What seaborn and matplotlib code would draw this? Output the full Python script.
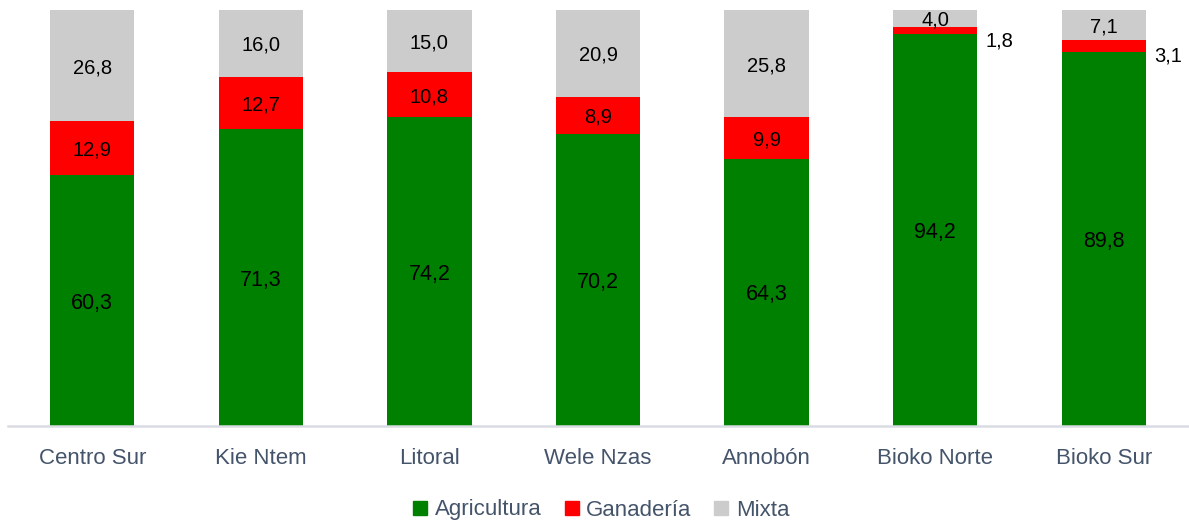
import matplotlib
matplotlib.use("Agg")
import matplotlib.pyplot as plt
from matplotlib.lines import Line2D
import seaborn as sns
import pandas as pd
import numpy as np

categories = ["Centro Sur", "Kie Ntem", "Litoral", "Wele Nzas", "Annobón", "Bioko Norte", "Bioko Sur"]
agricultura = [60.3, 71.3, 74.2, 70.2, 64.3, 94.2, 89.8]
ganaderia = [12.9, 12.7, 10.8, 8.9, 9.9, 1.8, 3.1]
mixta = [26.8, 16.0, 15.0, 20.9, 25.8, 4.0, 7.1]
series_names = ["Agricultura", "Ganadería", "Mixta"]

colors = {"Agricultura": "#008000", "Ganadería": "#ff0000", "Mixta": "#cccccc"}
text_color = "#44546a"

sns.set_theme(style="white")
plt.rcParams["font.family"] = ["Liberation Sans", "DejaVu Sans"]

df = pd.DataFrame({"cat": categories, "Agricultura": agricultura,
                   "Ganadería": ganaderia, "Mixta": mixta})
df["c1"] = df["Agricultura"]
df["c2"] = df["Agricultura"] + df["Ganadería"]
df["c3"] = df["c2"] + df["Mixta"]

fig = plt.figure(figsize=(11.89, 5.23), dpi=100)
ax = fig.add_axes([8 / 1189, (523 - 426) / 523, 1180 / 1189, 416 / 523])

for col, name in [("c3", "Mixta"), ("c2", "Ganadería"), ("c1", "Agricultura")]:
    sns.barplot(data=df, x="cat", y=col, color=colors[name], width=0.5,
                linewidth=0, saturation=1, ax=ax, order=categories)

ax.set_ylim(0, 100)
ax.set_xlim(-0.5, len(categories) - 0.5)
ax.set_xlabel("")
ax.set_ylabel("")
ax.set_yticks([])
for s in ["top", "right", "left"]:
    ax.spines[s].set_visible(False)
ax.spines["bottom"].set_color("#d9dce3")
ax.spines["bottom"].set_linewidth(1.8)
ax.tick_params(axis="x", length=0, pad=16, labelsize=16, labelcolor=text_color)

def fmt(v):
    return f"{v:.1f}".replace(".", ",")

for i in range(len(categories)):
    a, g, m = agricultura[i], ganaderia[i], mixta[i]
    ax.text(i, a / 2, fmt(a), ha="center", va="center_baseline", fontsize=15.5, color="black")
    if g >= 5:
        ax.text(i, a + g / 2, fmt(g), ha="center", va="center_baseline", fontsize=14.5, color="black")
    else:
        ax.text(i + 0.3, a + g / 2 - 2.0, fmt(g), ha="left", va="center_baseline", fontsize=14.5, color="black")
    ax.text(i, a + g + m / 2, fmt(m), ha="center", va="center_baseline", fontsize=14.5, color="black")

handles = [Line2D([0], [0], marker="s", linestyle="none", markersize=10,
                  markerfacecolor=colors[n], markeredgecolor=colors[n]) for n in series_names]
leg = fig.legend(handles, series_names, loc="center", bbox_to_anchor=(601 / 1189, 1 - 510 / 523),
                 ncol=3, frameon=False, fontsize=16, handlelength=0.7, handletextpad=0.3,
                 columnspacing=1.0)
for t in leg.get_texts():
    t.set_color(text_color)

fig.savefig("out.png", dpi=100)
